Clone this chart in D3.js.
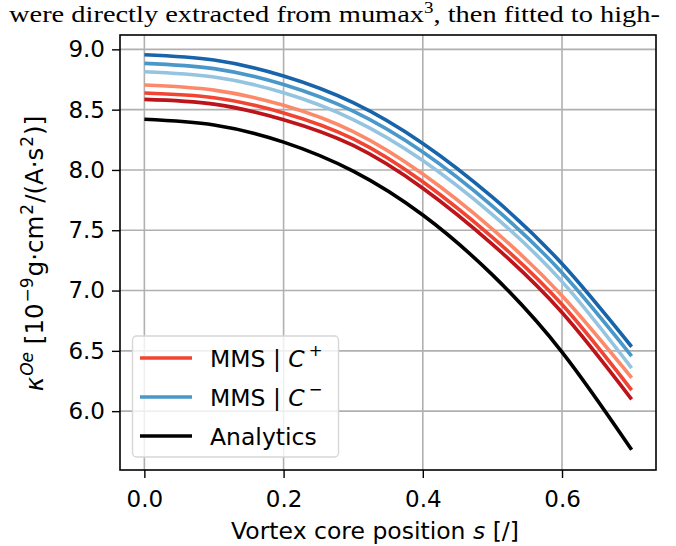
<!DOCTYPE html>
<html>
<head>
<meta charset="utf-8">
<script src="https://cdn.jsdelivr.net/npm/d3@7/dist/d3.min.js"></script>
<style>
  body { margin: 0; background: #fff; }
  svg { display: block; }
  text { font-family: "DejaVu Sans", sans-serif; fill: #000; }
</style>
</head>
<body>
<div id="chart"></div>
<script>
// ---- data ----
const positions = [0.0, 0.1, 0.2, 0.3, 0.4, 0.5, 0.6, 0.7];

const mmsPlusDark  = [8.585, 8.546, 8.416, 8.203, 7.848, 7.383, 6.818, 6.098];
const mmsPlusMid   = [8.638, 8.599, 8.473, 8.258, 7.902, 7.441, 6.884, 6.175];
const mmsPlusLight = [8.704, 8.662, 8.536, 8.318, 7.966, 7.510, 6.957, 6.277];

const mmsMinusLight = [8.814, 8.770, 8.640, 8.418, 8.078, 7.630, 7.074, 6.357];
const mmsMinusMid   = [8.884, 8.840, 8.708, 8.487, 8.148, 7.700, 7.148, 6.457];
const mmsMinusDark  = [8.955, 8.911, 8.779, 8.558, 8.220, 7.774, 7.222, 6.534];

const analytics = [8.420, 8.373, 8.231, 7.990, 7.626, 7.130, 6.490, 5.680];

const xTicks = [0.0, 0.2, 0.4, 0.6];
const yTicks = [6.0, 6.5, 7.0, 7.5, 8.0, 8.5, 9.0];

const series = [
  { values: mmsMinusDark,  color: '#1764ab' },
  { values: mmsMinusMid,   color: '#4a98c9' },
  { values: mmsMinusLight, color: '#94c4df' },
  { values: mmsPlusLight,  color: '#fc8a6a' },
  { values: mmsPlusMid,    color: '#f14432' },
  { values: mmsPlusDark,   color: '#bc141a' },
  { values: analytics,     color: '#000000' }
];

const W = 676, H = 546;
const box = { left: 120, right: 656, top: 35, bottom: 470 };

const svg = d3.select('#chart').append('svg')
  .attr('width', W).attr('height', H);

const x = d3.scaleLinear().domain([-0.035, 0.735]).range([box.left, box.right]);
const y = d3.scaleLinear().domain([5.512, 9.119]).range([box.bottom, box.top]);

// document text bleeding in at the top
const headText = svg.append('text')
  .attr('x', 9).attr('y', 22)
  .style('font-family', '"Liberation Serif", "DejaVu Serif", serif')
  .style('font-size', '24px');
headText.append('tspan').text('were directly extracted from mumax');
headText.append('tspan').attr('dy', -9).style('font-size', '16px').text('3');
headText.append('tspan').attr('dy', 9).text(', then fitted to high-');
headText.attr('textLength', 651).attr('lengthAdjust', 'spacingAndGlyphs');

// grid
const grid = svg.append('g');
xTicks.forEach(t => {
  grid.append('line')
    .attr('x1', x(t)).attr('x2', x(t))
    .attr('y1', box.top).attr('y2', box.bottom)
    .attr('stroke', '#b0b0b0').attr('stroke-width', 1.6);
});
yTicks.forEach(t => {
  grid.append('line')
    .attr('x1', box.left).attr('x2', box.right)
    .attr('y1', y(t)).attr('y2', y(t))
    .attr('stroke', '#b0b0b0').attr('stroke-width', 1.6);
});

// curves
const line = d3.line()
  .x((d, i) => x(positions[i]))
  .y(d => y(d))
  .curve(d3.curveNatural);

series.forEach(s => {
  svg.append('path')
    .datum(s.values)
    .attr('d', line)
    .attr('fill', 'none')
    .attr('stroke', s.color)
    .attr('stroke-width', 3.6);
});

// frame
svg.append('rect')
  .attr('x', box.left).attr('y', box.top)
  .attr('width', box.right - box.left).attr('height', box.bottom - box.top)
  .attr('fill', 'none').attr('stroke', '#000').attr('stroke-width', 1.6);

// axes
const xAxis = d3.axisBottom(x).tickValues(xTicks).tickFormat(d3.format('.1f'))
  .tickSizeInner(8).tickSizeOuter(0).tickPadding(13);
const yAxis = d3.axisLeft(y).tickValues(yTicks).tickFormat(d3.format('.1f'))
  .tickSizeInner(8).tickSizeOuter(0).tickPadding(7);

const gx = svg.append('g').attr('transform', `translate(0,${box.bottom})`).call(xAxis);
const gy = svg.append('g').attr('transform', `translate(${box.left},0)`).call(yAxis);
[gx, gy].forEach(g => {
  g.select('.domain').remove();
  g.selectAll('.tick line').attr('stroke', '#000').attr('stroke-width', 1.4);
  g.selectAll('.tick text')
    .style('font-family', '"DejaVu Sans", sans-serif')
    .style('font-size', '23px').attr('fill', '#000');
});

// x label
const xl = svg.append('text')
  .attr('x', (box.left + box.right) / 2 - 13).attr('y', 539)
  .attr('text-anchor', 'middle')
  .style('font-size', '23.5px');
xl.append('tspan').text('Vortex core position ');
xl.append('tspan').style('font-style', 'italic').text('s');
xl.append('tspan').text(' [/]');

// y label (mathtext-like, small gaps around superscripts)
const yl = svg.append('text')
  .attr('transform', 'translate(43,253.5) rotate(-90)')
  .attr('text-anchor', 'middle')
  .style('font-size', '24.5px');
yl.append('tspan').style('font-style', 'italic').text('κ');
yl.append('tspan').attr('dx', 1).attr('dy', -10).style('font-size', '17px').style('font-style', 'italic').text('Oe');
yl.append('tspan').attr('dy', 10).text(' [10');
yl.append('tspan').attr('dx', 1).attr('dy', -10).style('font-size', '17px').text('−9');
yl.append('tspan').attr('dx', 1).attr('dy', 10).text('g·cm');
yl.append('tspan').attr('dx', 1).attr('dy', -10).style('font-size', '17px').text('2');
yl.append('tspan').attr('dx', 1).attr('dy', 10).text('/(A·s');
yl.append('tspan').attr('dx', 1).attr('dy', -10).style('font-size', '17px').text('2');
yl.append('tspan').attr('dx', 1).attr('dy', 10).text(')]');

// legend
const legendItems = [
  { label: 'MMS | ', sym: 'C', sup: '+', color: '#f14432' },
  { label: 'MMS | ', sym: 'C', sup: '−', color: '#4a98c9' },
  { label: 'Analytics', color: '#000000' }
];
const lg = svg.append('g');
lg.append('rect')
  .attr('x', 132.5).attr('y', 336).attr('width', 206).attr('height', 121)
  .attr('rx', 4).attr('fill', 'rgba(255,255,255,0.8)')
  .attr('stroke', '#d6d6d6').attr('stroke-width', 1.4);
legendItems.forEach((it, i) => {
  const cy = 358 + i * 39;
  lg.append('line')
    .attr('x1', 140).attr('x2', 192).attr('y1', cy).attr('y2', cy)
    .attr('stroke', it.color).attr('stroke-width', 3.6);
  const t = lg.append('text').attr('x', 210).attr('y', cy + 8.5).style('font-size', '23.5px');
  t.append('tspan').text(it.label);
  if (it.sym) {
    t.append('tspan').style('font-style', 'italic').text(it.sym);
    t.append('tspan').attr('dx', 4).attr('dy', -11).style('font-size', '16.5px').text(it.sup);
  }
});
</script>
</body>
</html>
